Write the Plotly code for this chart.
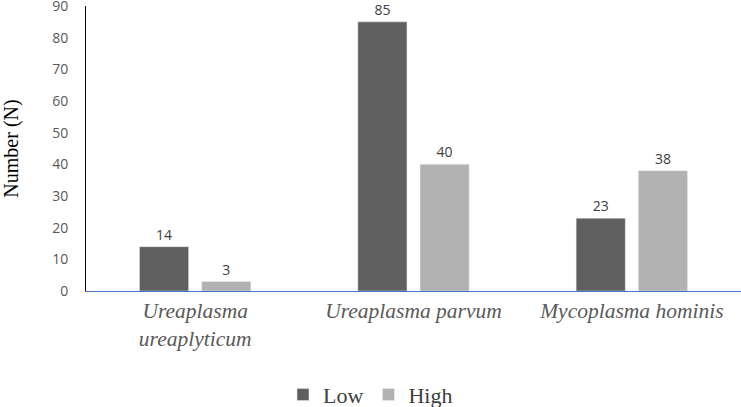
import plotly.graph_objects as go

categories = ["<i>Ureaplasma</i><br><i>ureaplyticum</i>", "<i>Ureaplasma parvum</i>", "<i>Mycoplasma hominis</i>"]
low_values = [14, 85, 23]
high_values = [3, 40, 38]
y_ticks = [0, 10, 20, 30, 40, 50, 60, 70, 80, 90]

fig = go.Figure()
fig.add_trace(go.Bar(name="Low", x=categories, y=low_values, marker_color="#5f5f5f",
                     text=low_values, textposition="outside", cliponaxis=False,
                     textfont=dict(family="Open Sans, sans-serif", size=14, color="#404040")))
fig.add_trace(go.Bar(name="High", x=categories, y=high_values, marker_color="#b2b2b2",
                     text=high_values, textposition="outside", cliponaxis=False,
                     textfont=dict(family="Open Sans, sans-serif", size=14, color="#404040")))

fig.update_layout(
    width=741, height=407,
    margin=dict(l=86, r=0, t=6, b=116),
    plot_bgcolor="white", paper_bgcolor="white",
    barmode="group", bargap=0.43, bargroupgap=0.21,
    showlegend=True,
    legend=dict(orientation="h", xref="container", yref="container",
                x=0.5, xanchor="center", y=0.03, yanchor="middle",
                font=dict(family="Liberation Serif, serif", size=22, color="#404040"),
                itemwidth=30, traceorder="normal"),
    xaxis=dict(showline=True, linecolor="#4472c4", linewidth=1, showgrid=False,
               tickfont=dict(family="Liberation Serif, serif", size=21.5, color="#595959"),
               ticks="", fixedrange=True, automargin=False),
    yaxis=dict(range=[0, 90], tickvals=y_ticks, showline=True, linecolor="black", linewidth=1,
               showgrid=False, zeroline=False, ticks="", ticklabelstandoff=14, automargin=False,
               ticklabeloverflow="allow", fixedrange=True,
               tickfont=dict(family="Open Sans, sans-serif", size=14, color="#595959"),
               title=dict(text="Number (N)", standoff=28,
                          font=dict(family="Liberation Serif, serif", size=20, color="black"))),
)

fig.write_html("out.html", config={"displayModeBar": False},
               post_script="document.body.style.margin='0';")
